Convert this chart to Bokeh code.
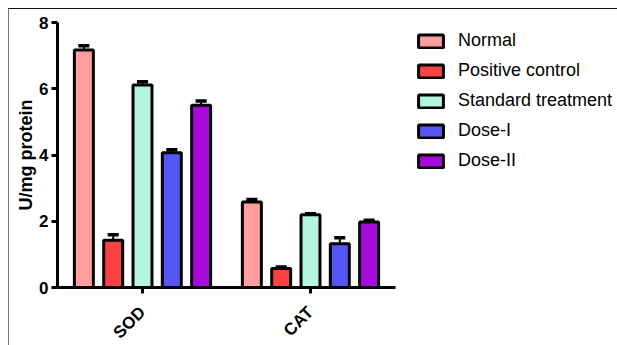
import math
from bokeh.plotting import figure
from bokeh.models import Range1d, FixedTicker, Legend, LegendItem
from bokeh.embed import file_html
from bokeh.resources import INLINE

categories = ["SOD", "CAT"]
series_names = ["Normal", "Positive control", "Standard treatment", "Dose-I", "Dose-II"]
series_colors = ["#FF9E9E", "#F94242", "#B4F5E0", "#5656F7", "#A70BDB"]
normal = [7.17, 2.58]
positive_control = [1.43, 0.57]
standard_treatment = [6.11, 2.20]
dose_i = [4.07, 1.32]
dose_ii = [5.50, 1.98]
normal_err = [0.13, 0.08]
positive_control_err = [0.16, 0.05]
standard_treatment_err = [0.10, 0.03]
dose_i_err = [0.09, 0.18]
dose_ii_err = [0.13, 0.05]
y_ticks = [0, 2, 4, 6, 8]

values = [normal, positive_control, standard_treatment, dose_i, dose_ii]
errors = [normal_err, positive_control_err, standard_treatment_err, dose_i_err, dose_ii_err]

FONT = "Liberation Sans"

p = figure(frame_width=338, frame_height=265, output_backend="svg", toolbar_location=None,
           x_range=Range1d(-0.506, 1.506), y_range=Range1d(0, 8),
           min_border_left=48, min_border_right=218, min_border_top=13, min_border_bottom=57)
p.styles = {"border-top": "1px solid #111", "border-left": "1px solid #777",
            "border-right": "1px solid #777", "margin-left": "8px", "margin-top": "8px"}
p.outline_line_color = None
p.xgrid.visible = False
p.ygrid.visible = False

pitch = 0.1745
bar_w = 0.113
cap_w = 0.066
n = len(series_names)
renderers = []
for j, (name, col, vals, errs) in enumerate(zip(series_names, series_colors, values, errors)):
    xs = [i + (j - (n - 1) / 2) * pitch for i in range(len(categories))]
    tops = [v + e for v, e in zip(vals, errs)]
    p.segment(x0=xs, y0=vals, x1=xs, y1=tops, line_color="black", line_width=2)
    p.segment(x0=[x - cap_w / 2 for x in xs], y0=tops, x1=[x + cap_w / 2 for x in xs], y1=tops,
              line_color="black", line_width=3.5)
    r = p.vbar(x=xs, top=vals, width=bar_w, bottom=0, fill_color=col, line_color="black",
               line_width=3)
    renderers.append(r)

# axes
for ax in (p.xaxis, p.yaxis):
    ax.minor_tick_line_color = None
    ax.major_tick_in = 0
    ax.major_tick_out = 6
    ax.major_tick_line_width = 3
    ax.axis_line_width = 3
    ax.axis_line_color = "black"
    ax.major_tick_line_color = "black"
    ax.major_label_text_font = FONT
    ax.major_label_text_font_style = "bold"
    ax.major_label_text_color = "black"

p.yaxis.ticker = FixedTicker(ticks=y_ticks)
p.yaxis.major_label_text_font_size = "17px"
p.yaxis.major_label_standoff = 3
p.yaxis.axis_label = "U/mg protein"
p.yaxis.axis_label_text_font = FONT
p.yaxis.axis_label_text_font_style = "bold"
p.yaxis.axis_label_text_font_size = "18px"
p.yaxis.axis_label_text_color = "black"
p.yaxis.axis_label_standoff = 0

p.xaxis.ticker = FixedTicker(ticks=list(range(len(categories))))
p.xaxis.major_label_overrides = {i: c for i, c in enumerate(categories)}
p.xaxis.major_label_orientation = math.pi / 4
p.xaxis.major_label_text_font_size = "17px"
p.xaxis.major_label_standoff = 16

legend = Legend(items=[LegendItem(label=nm, renderers=[r]) for nm, r in zip(series_names, renderers)],
                location=(20, 116), margin=0, padding=0, spacing=9, glyph_width=31, glyph_height=16,
                label_height=16, label_standoff=12, border_line_color=None,
                background_fill_alpha=0, label_text_font=FONT, label_text_font_size="18px",
                label_text_color="black")
p.add_layout(legend, "right")

open("out.html", "w").write(file_html(p, INLINE))
